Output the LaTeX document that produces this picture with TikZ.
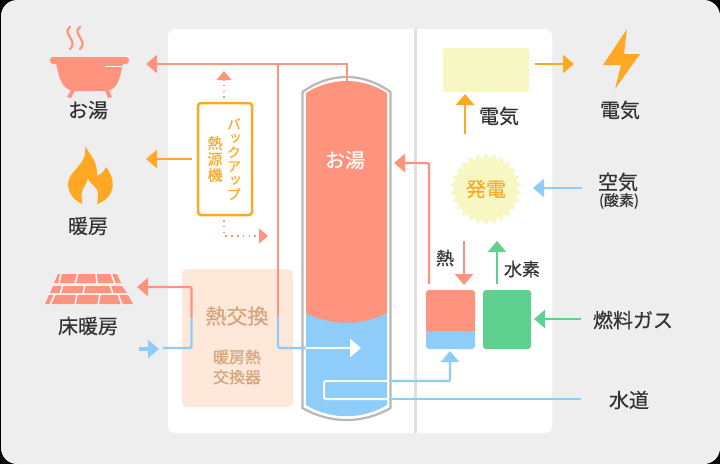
\documentclass[tikz,border=0pt]{standalone}
\usepackage{fontspec}
\setmainfont[FakeBold=0.35]{Noto Sans CJK JP}
\newfontfamily\vertfont[RawFeature=+vert,FakeBold=0.25]{Noto Sans CJK JP}
\usetikzlibrary{arrows.meta,shapes.geometric}
\definecolor{salmon}{HTML}{FF947E}
\definecolor{amber}{HTML}{FFA826}
\definecolor{sky}{HTML}{8ECDF9}
\definecolor{leaf}{HTML}{60D090}
\definecolor{cream}{HTML}{F7F7C4}
\definecolor{peach}{HTML}{FDE8D9}
\definecolor{tan}{HTML}{D2A57C}
\definecolor{ink}{HTML}{333333}
\definecolor{panel}{HTML}{EEEEEE}
\tikzset{
	pipe/.style={line width=2.4pt, color=#1},
	pipearrow/.style={line width=2.4pt, color=#1, -{Triangle[length=11pt,width=18pt]}},
	dotarrow/.style={line width=1.6pt, color=salmon, dash pattern=on 1.6pt off 4.2pt, -{Triangle[length=9pt,width=15pt]}},
	label/.style={font=\fontsize{20}{22}\selectfont, text=ink, inner sep=0pt},
	smalllabel/.style={font=\fontsize{18}{20}\selectfont, text=ink, inner sep=0pt},
}
\begin{document}
\begin{tikzpicture}[x=1pt, y=-1pt]
	\useasboundingbox (0,0) rectangle (720,464);
	\fill[black] (0,0) rectangle (720,464);
	\fill[panel, rounded corners=16pt] (1,0) rectangle (720,464);
	\fill[white, rounded corners=7pt] (168,29) rectangle (552,433);
	\fill[color=black!12] (414,29) rectangle (417,433);

	% bath
	\fill[salmon, rounded corners=3pt] (50,57) rectangle (129,64);
	\fill[salmon] (56,63) .. controls (59,78) and (62,90) .. (74,91) -- (106,91) .. controls (118,90) and (120,78) .. (123,63) -- cycle;
	\fill[salmon] (71,90) -- (75,90) -- (71,98) -- (67,97) -- cycle;
	\fill[salmon] (105,90) -- (109,90) -- (112,97) -- (108,98) -- cycle;
	\draw[white, line width=1.8pt] (105,66.5) -- (122,66.5);
	\foreach \x in {70,80} {
		\draw[salmon, line width=2.2pt, line cap=round] (\x,27) .. controls (\x-9,33) and (\x+9,41) .. (\x,49);
	}
	\node[label] (bathtext) at (88,110) {お湯};

	% flame
	\fill[amber] (85,146) .. controls (91,156) and (98,162) .. (97,176) .. controls (101,174) and (104,172) .. (106,167) .. controls (112,174) and (114,184) .. (112,190) .. controls (110,197) and (104,202) .. (97,204) .. controls (99,196) and (98,190) .. (96,188) .. controls (93,185) and (89,182) .. (88,178) .. controls (87,184) and (83,187) .. (82,192) .. controls (81,196) and (82,200) .. (82,204) .. controls (73,200) and (68,192) .. (68,184) .. controls (68,170) and (88,166) .. (85,146) -- cycle;
	\node[label] (warmtext) at (88,226) {暖房};

	% floor
	\fill[salmon] (58,274) -- (117,274) -- (121,283) -- (54,283) -- cycle;
	\fill[salmon] (53,286) -- (122,286) -- (127,293) -- (50,293) -- cycle;
	\fill[salmon] (49,295) -- (128,295) -- (133,304) -- (45,304) -- cycle;
	\foreach \xa/\xb in {61/59,78/75,96/97,111/115} {
		\draw[white, line width=1.5pt] (\xa,273) -- (\xb,284);
	}
	\foreach \xa/\xb in {63/60,85/83,110/113} {
		\draw[white, line width=1.5pt] (\xa,285) -- (\xb,294);
	}
	\foreach \xa/\xb in {55/50,77/75,100/98,118/122} {
		\draw[white, line width=1.5pt] (\xa,294) -- (\xb,305);
	}
	\node[label] (floortext) at (88,326) {床暖房};

	% heat exchanger
	\fill[peach, rounded corners=5pt] (182,269) rectangle (293,407);
	\node[font=\fontsize{21}{23}\selectfont, text=tan, inner sep=0pt] (hxtitle) at (237,316) {熱交換};
	\node[font=\fontsize{16}{20}\selectfont, text=tan, inner sep=0pt, align=center] (hxtext) at (237,367) {暖房熱\\交換器};

	% backup
	\node[draw=amber, line width=2.5pt, rounded corners=3pt, minimum width=54pt, minimum height=112pt, inner sep=0pt] (backup) at (225,159) {};
	\node[font=\fontsize{14}{14}\vertfont, text=amber, inner sep=0pt, align=center] (backuptext) at (234,159) {バ\\ッ\\ク\\ア\\ッ\\プ};
	\node[font=\fontsize{15}{16}\selectfont, text=amber, inner sep=0pt, align=center] (sourcetext) at (215,159) {熱\\源\\機};

	% tank
	\fill[sky] (306,313) -- (387,313) -- (387,405) .. controls (362,420) and (331,420) .. (306,405) -- cycle;
	\fill[salmon] (306,93) .. controls (331,77) and (362,77) .. (387,93) -- (387,313) .. controls (362,326) and (331,326) .. (306,313) -- cycle;
	\draw[color=black!28, line width=2.2pt] (302.5,92) -- (302.5,408) .. controls (330,424) and (363,424) .. (390.5,408) -- (390.5,92) .. controls (363,72) and (330,72) .. (302.5,92) -- cycle;
	\node[font=\fontsize{20}{22}\selectfont, text=white, inner sep=0pt] (tanktext) at (345,160) {お湯};

	% right part
	\fill[cream, rounded corners=3pt] (443,48) rectangle (529,92);
	\node[star, star points=26, star point ratio=1.17, fill=cream, minimum size=72pt, inner sep=0pt] (power) at (486,189) {};
	\node[font=\fontsize{20}{22}\selectfont, text=amber, inner sep=0pt] (powertext) at (486,189) {発電};
	\fill[sky, rounded corners=3pt] (426,320) rectangle (475,349);
	\fill[salmon, rounded corners=3pt] (426,290) rectangle (475,325);
	\fill[salmon] (426,315) rectangle (475,331);
	\fill[leaf, rounded corners=3pt] (483,290) rectangle (531,349);
	\node[label] (electext) at (499,116) {電気};
	\node[smalllabel] (heattext) at (445,258) {熱};
	\node[smalllabel] (h2text) at (522,269) {水素};
	\node[label] (elecout) at (620,110) {電気};
	\node[label] (airtext) at (618,182) {空気};
	\node[label, font=\fontsize{15}{17}\selectfont] (oxytext) at (619,201) {(酸素)};
	\node[label] (fueltext) at (633,320) {燃料ガス};
	\node[label] (watertext) at (629,400) {水道};

	% bolt
	\fill[amber] (627,29) -- (603,65) -- (621,65) -- (615,89) -- (640,54) -- (624,54) -- cycle;

	% points for the connectors
	\coordinate (tanktop) at (347,81);
	\coordinate (tankin) at (306,348);
	\coordinate (tankmid) at (361,348);
	\coordinate (coilin) at (389,381);
	\coordinate (coilout) at (389,399);
	\coordinate (coila) at (324,381);
	\coordinate (coilb) at (324,399);
	\coordinate (bathtip) at (146,64);
	\coordinate (bend) at (278,64);
	\coordinate (cold) at (278,316);
	\coordinate (warmfrom) at (192,159);
	\coordinate (warmtip) at (146,159);
	\coordinate (hxhot) at (191.5,317);
	\coordinate (floortip) at (137,287);
	\coordinate (hxcold) at (163,348);
	\coordinate (floorback) at (139,349);
	\coordinate (floorbacktip) at (159,349);
	\coordinate (dotupfrom) at (224,98);
	\coordinate (dotup) at (224,71);
	\coordinate (dotdownfrom) at (224,220);
	\coordinate (dotright) at (268,236);
	\coordinate (stackout) at (429,284);
	\coordinate (tankhot) at (394,163);
	\coordinate (heatfrom) at (464,241);
	\coordinate (heattip) at (464,285);
	\coordinate (h2from) at (497,284);
	\coordinate (h2tip) at (497,241);
	\coordinate (fuelfrom) at (581,319);
	\coordinate (fueltip) at (534,319);
	\coordinate (airfrom) at (582,188);
	\coordinate (airtip) at (533,188);
	\coordinate (elecfrom) at (465,134);
	\coordinate (electip) at (465,94);
	\coordinate (sellfrom) at (535,64);
	\coordinate (selltip) at (574,64);
	\coordinate (stacktip) at (450,351);
	\coordinate (waterin) at (581,399);

	% connectors
	\draw[pipearrow=salmon] (tanktop) |- (bathtip);
	\draw[pipe=salmon] (bend) -- (cold);
	\draw[pipe=sky, rounded corners=2pt] (cold) |- (tankin);
	\draw[pipearrow=white] (tankin) -- (tankmid);
	\draw[pipearrow=amber] (warmfrom) -- (warmtip);
	\draw[pipearrow=salmon, rounded corners=2pt] (hxhot) |- (floortip);
	\draw[pipe=sky, rounded corners=2pt] (hxhot) |- (hxcold);
	\draw[line width=4pt, color=sky, -{Triangle[length=11pt,width=18pt]}] (floorback) -- (floorbacktip);
	\draw[dotarrow] (dotupfrom) -- (dotup);
	\draw[dotarrow] (dotdownfrom) |- (dotright);
	\draw[pipearrow=salmon, rounded corners=2pt] (stackout) |- (tankhot);
	\draw[pipearrow=salmon] (heatfrom) -- (heattip);
	\draw[pipearrow=leaf] (h2from) -- (h2tip);
	\draw[pipearrow=leaf] (fuelfrom) -- (fueltip);
	\draw[pipearrow=sky] (airfrom) -- (airtip);
	\draw[pipearrow=amber] (elecfrom) -- (electip);
	\draw[pipearrow=amber] (sellfrom) -- (selltip);
	\draw[pipe=white, line width=2pt, rounded corners=2pt] (coilin) -- (coila) -- (coilb) -- (coilout);
	\draw[pipearrow=sky, rounded corners=1pt] (coilin) -| (stacktip);
	\draw[pipe=sky] (waterin) -- (coilout);
\end{tikzpicture}
\end{document}
